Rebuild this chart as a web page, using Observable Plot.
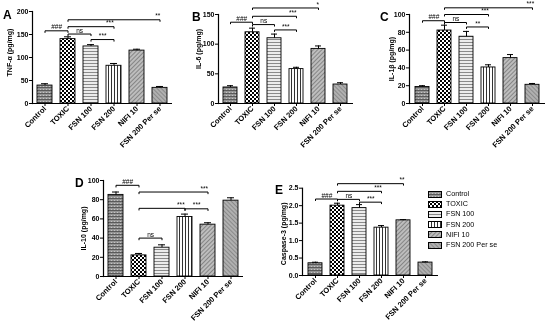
<!DOCTYPE html>
<html><head><meta charset="utf-8">
<script src="https://cdn.jsdelivr.net/npm/d3@7"></script>
<script src="https://cdn.jsdelivr.net/npm/@observablehq/plot@0.6"></script>
<style>
body{margin:0;background:#fff;-webkit-font-smoothing:antialiased;}
#fig{position:relative;width:550px;height:329px;overflow:hidden;font-family:"Liberation Sans",Arial,sans-serif;color:#000;background:#fff;will-change:transform;}
.panel{position:absolute;}
.letter{position:absolute;font-weight:bold;font-size:12px;line-height:1;}
#legend{position:absolute;left:428px;top:189px;font-size:7.2px;line-height:10.2px;}
#legend .row{display:flex;align-items:center;height:10.2px;}
#legend svg{margin-right:4px;}
</style></head>
<body>
<svg width="0" height="0" style="position:absolute">
 <defs>
  <pattern id="p0" patternUnits="userSpaceOnUse" width="3" height="3"><rect width="3" height="3" fill="#949494"/><rect width="3" height="1" fill="#5a5a5a"/><rect x="1" y="2" width="1" height="1" fill="#c4c4c4"/></pattern>
  <pattern id="p1" patternUnits="userSpaceOnUse" width="4" height="4"><rect width="4" height="4" fill="#fff"/><rect width="2" height="2" fill="#000"/><rect x="2" y="2" width="2" height="2" fill="#000"/></pattern>
  <pattern id="p2" patternUnits="userSpaceOnUse" width="3" height="3"><rect width="3" height="3" fill="#ececec"/><rect width="3" height="1" fill="#8a8a8a"/></pattern>
  <pattern id="p3" patternUnits="userSpaceOnUse" width="3" height="3"><rect width="3" height="3" fill="#fff"/><rect width="1" height="3" fill="#333"/></pattern>
  <pattern id="p4" patternUnits="userSpaceOnUse" width="3" height="3" patternTransform="rotate(45)"><rect width="3" height="3" fill="#bdbdbd"/><rect width="1" height="3" fill="#858585"/></pattern>
  <pattern id="p5" patternUnits="userSpaceOnUse" width="3" height="3" patternTransform="rotate(-45)"><rect width="3" height="3" fill="#b0b0b0"/><rect width="1" height="3" fill="#8a8a8a"/></pattern>
 </defs>
</svg>
<div id="fig"></div>
<script>
// ---------- data ----------
const groups = ["Control", "TOXIC", "FSN 100", "FSN 200", "NIFI 10", "FSN 200 Per se"];

const tnfMean  = [39, 140, 124, 82, 115, 34];
const tnfErr   = [4, 5, 4, 5, 3, 3];
const il6Mean  = [27, 120, 110, 58, 92, 32];
const il6Err   = [3, 7, 7, 3, 5, 3];
const il1bMean = [18.5, 82, 75, 40.5, 51, 21];
const il1bErr  = [1.5, 6, 6, 3, 4, 1.5];
const il10Mean = [85, 22, 30, 62, 54, 79];
const il10Err  = [3, 2, 3, 3, 2, 3];
const casMean  = [0.35, 2.0, 1.93, 1.37, 1.58, 0.37];
const casErr   = [0.03, 0.07, 0.1, 0.06, 0.02, 0.02];

const tnfTicks  = [0, 50, 100, 150, 200];
const il6Ticks  = [0, 50, 100, 150];
const il1bTicks = [0, 20, 40, 60, 80, 100];
const il10Ticks = [0, 20, 40, 60, 80, 100];
const casTicks  = [0, 0.5, 1.0, 1.5, 2.0, 2.5];

// significance brackets: [from, to, y, label, label position]
const tnfSig = [
  ["Control", "TOXIC", 158, "###", "mid"],
  ["TOXIC", "FSN 100", 151, "ns", "mid"],
  ["FSN 100", "FSN 200", 139, "***", "mid"],
  ["TOXIC", "FSN 200", 167, "***", "end"],
  ["TOXIC", "FSN 200 Per se", 182, "**", "end"]
];
const il6Sig = [
  ["Control", "TOXIC", 137, "###", "mid"],
  ["TOXIC", "FSN 100", 133, "ns", "mid"],
  ["FSN 100", "FSN 200", 124, "***", "mid"],
  ["TOXIC", "FSN 200", 147, "***", "end"],
  ["TOXIC", "NIFI 10", 161, "*", "end"]
];
const il1bSig = [
  ["Control", "TOXIC", 93, "###", "mid"],
  ["TOXIC", "FSN 100", 91, "ns", "mid"],
  ["FSN 100", "FSN 200", 86, "**", "mid"],
  ["TOXIC", "FSN 200", 100, "***", "end"],
  ["TOXIC", "FSN 200 Per se", 107.5, "***", "end"]
];
const il10Sig = [
  ["Control", "TOXIC", 95, "###", "mid"],
  ["TOXIC", "NIFI 10", 88, "***", "end"],
  ["TOXIC", "FSN 200", 71, "***", "end"],
  ["FSN 200", "NIFI 10", 70.5, "***", "mid"],
  ["TOXIC", "FSN 100", 40, "ns", "mid"]
];
const casSig = [
  ["Control", "TOXIC", 2.19, "###", "mid"],
  ["TOXIC", "FSN 100", 2.18, "ns", "mid"],
  ["FSN 100", "FSN 200", 2.1, "***", "mid"],
  ["TOXIC", "FSN 200", 2.41, "***", "end"],
  ["TOXIC", "NIFI 10", 2.63, "**", "end"]
];

const patterns = ["url(#p0)", "url(#p1)", "url(#p2)", "url(#p3)", "url(#p4)", "url(#p5)"];

// ---------- drawing ----------
const fig = document.getElementById("fig");
const PI = 0.36, PO = 0.18;

function panel(o) {
  const data = groups.map((g, i) => ({g, m: o.mean[i], e: o.err[i]}));
  const sig = o.sig.map(([from, to, y, label, at]) => ({from, to, y, label, at}));
  const R = o.width - o.ml - o.mr;
  const step = R / (groups.length - PI + 2 * PO);
  const ymax = o.ticks[o.ticks.length - 1];
  const t = ymax * 0.022;
  const sigText = sig.map(b => {
    const n = groups.indexOf(b.to) - groups.indexOf(b.from);
    return Plot.text([b], {
      x: "from", y: "y", text: "label",
      dx: b.at === "mid" ? n * step / 2 : n * step - 1,
      dy: -3.5, textAnchor: b.at === "mid" ? "middle" : "end",
      fontSize: 6.5, fill: "black"
    });
  });
  const chart = Plot.plot({
    width: o.width, height: o.height,
    marginLeft: o.ml, marginRight: o.mr, marginTop: o.mt, marginBottom: o.mb,
    style: {fontFamily: "Liberation Sans, Arial, sans-serif", color: "black", background: "transparent", overflow: "visible"},
    x: {domain: groups, paddingInner: PI, paddingOuter: PO, axis: null},
    y: {domain: [0, ymax], axis: null},
    color: {domain: groups, range: patterns},
    marks: [
      Plot.barY(data, {x: "g", y: "m", fill: "g", stroke: "black", strokeWidth: 0.9}),
      Plot.ruleX(data, {x: "g", y1: "m", y2: d => d.m + d.e, stroke: "black", strokeWidth: 1}),
      Plot.tickY(data, {x: "g", y: d => d.m + d.e, insetLeft: 4, insetRight: 4, stroke: "black", strokeWidth: 1}),
      Plot.ruleY([0], {stroke: "black", strokeWidth: 1.2}),
      Plot.frame({anchor: "left", stroke: "black", strokeWidth: 1.2}),
      Plot.axisY({ticks: o.ticks, tickSize: 3, tickPadding: 1, fontSize: 7, fontWeight: "bold",
        tickFormat: o.fmt, label: null, stroke: "black", fill: "black"}),
      Plot.axisX({tickRotate: -45, tickSize: 3, tickPadding: 1, fontSize: 7.6, fontWeight: "bold",
        label: null, stroke: "black", fill: "black"}),
      Plot.text([o.label], {frameAnchor: "left", text: d => d, rotate: -90, textAnchor: "middle",
        dx: o.ldx, dy: o.ldy || 0, fontSize: 7, fontWeight: "bold", fill: "black"}),
      Plot.link(sig, {x1: "from", x2: "to", y1: "y", y2: "y", stroke: "black", strokeWidth: 1}),
      Plot.link(sig, {x1: "from", x2: "from", y1: "y", y2: d => d.y - t, stroke: "black", strokeWidth: 1}),
      Plot.link(sig, {x1: "to", x2: "to", y1: "y", y2: d => d.y - t, stroke: "black", strokeWidth: 1}),
      ...sigText
    ]
  });
  chart.classList.add("panel");
  chart.style.left = o.left + "px";
  chart.style.top = o.top + "px";
  fig.appendChild(chart);
  const L = document.createElement("div");
  L.className = "letter";
  L.textContent = o.letter;
  L.style.left = o.lx + "px";
  L.style.top = o.ly + "px";
  fig.appendChild(L);
}

panel({letter: "A", lx: 3, ly: 9, label: "TNF-\u03b1 (pg/mg)", ldx: -23, ldy: -5,
  mean: tnfMean, err: tnfErr, ticks: tnfTicks, sig: tnfSig, fmt: d3.format("d"),
  left: 0, top: 0, width: 180, height: 165, ml: 32, mr: 8, mt: 11, mb: 62});
panel({letter: "B", lx: 192, ly: 11, label: "IL-6 (pg/mg)", ldx: -20, ldy: -10,
  mean: il6Mean, err: il6Err, ticks: il6Ticks, sig: il6Sig, fmt: d3.format("d"),
  left: 180, top: 0, width: 180, height: 165, ml: 38, mr: 7, mt: 14, mb: 62});
panel({letter: "C", lx: 380, ly: 11, label: "IL-1\u03b2 (pg/mg)", ldx: -18, ldy: 0,
  mean: il1bMean, err: il1bErr, ticks: il1bTicks, sig: il1bSig, fmt: d3.format("d"),
  left: 360, top: 0, width: 190, height: 165, ml: 49, mr: 5, mt: 14, mb: 62});
panel({letter: "D", lx: 75, ly: 177, label: "IL-10 (pg/mg)", ldx: -20, ldy: 0,
  mean: il10Mean, err: il10Err, ticks: il10Ticks, sig: il10Sig, fmt: d3.format("d"),
  left: 50, top: 165, width: 200, height: 164, ml: 53, mr: 7, mt: 15, mb: 53});
panel({letter: "E", lx: 275, ly: 184, label: "Caspase-3 (pg/mg)", ldx: -19, ldy: 2,
  mean: casMean, err: casErr, ticks: casTicks, sig: casSig, fmt: d3.format(".1f"),
  left: 250, top: 165, width: 195, height: 164, ml: 52, mr: 7, mt: 22.7, mb: 54});

// legend
const leg = document.createElement("div");
leg.id = "legend";
groups.forEach((g, i) => {
  const row = document.createElement("div");
  row.className = "row";
  row.innerHTML = `<svg width="14" height="7"><rect x="0.5" y="0.5" width="13" height="6" fill="${patterns[i]}" stroke="black" stroke-width="1"/></svg><span></span>`;
  row.querySelector("span").textContent = g;
  leg.appendChild(row);
});
fig.appendChild(leg);
</script>
</body></html>
